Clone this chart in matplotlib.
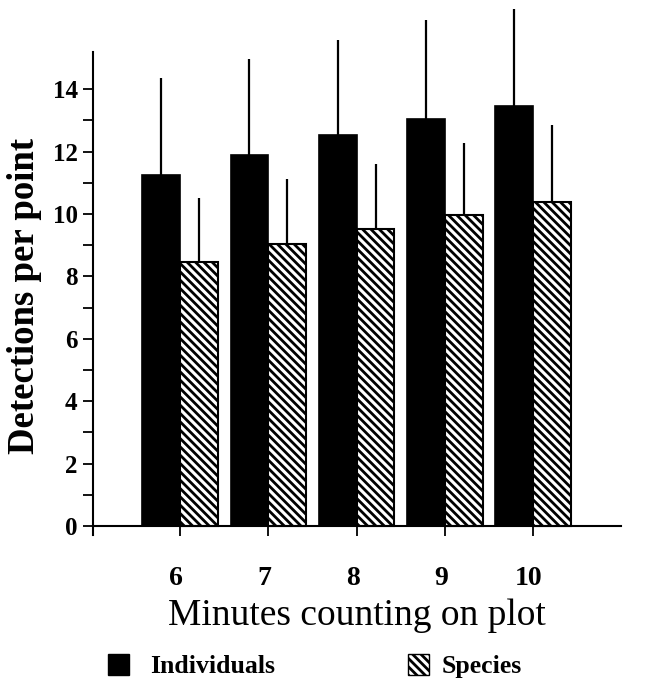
import numpy as np
import matplotlib
matplotlib.use("Agg")
import matplotlib.pyplot as plt
import matplotlib.transforms as mtransforms
from matplotlib.patches import Patch

# values
minutes = ["6", "7", "8", "9", "10"]
individuals = [11.25, 11.88, 12.53, 13.04, 13.47]
individuals_err = [3.10, 3.08, 3.05, 3.18, 3.09]
species = [8.47, 9.03, 9.52, 9.97, 10.39]
species_err = [2.05, 2.08, 2.09, 2.30, 2.46]

plt.rcParams['hatch.linewidth'] = 2.0
hatch = '\\\\\\\\'
serif = 'Liberation Serif'

W, H = 648, 683
fig = plt.figure(figsize=(W / 100, H / 100), dpi=100)
ax = fig.add_axes([93 / W, (H - 535) / H, (621 - 93) / W, (535 - 52) / H])

x = np.arange(len(minutes))
w = 0.43
ax.bar(x - w, individuals, width=w, align='edge', color='black',
       edgecolor='black', linewidth=1.2)
ax.bar(x, species, width=w, align='edge', color='white',
       edgecolor='black', linewidth=1.5, hatch=hatch)

# upper error bars only, allowed to run past the top of the axis
ax.vlines(x - w / 2, individuals, np.add(individuals, individuals_err),
          color='black', lw=1.6, clip_on=False)
ax.vlines(x + w / 2, species, np.add(species, species_err),
          color='black', lw=1.6, clip_on=False)

ax.set_xlim(-0.99, 5.0)
ax.set_ylim(-0.29, 15.19)

for s in ['top', 'right']:
    ax.spines[s].set_visible(False)
ax.spines['bottom'].set_position(('data', 0))
ax.spines['left'].set_linewidth(1.5)
ax.spines['bottom'].set_linewidth(1.5)

ax.set_yticks(np.arange(0, 15, 2))
ax.set_yticks(np.arange(1, 15, 2), minor=True)
ax.tick_params(axis='y', which='both', direction='out', length=7.5,
               width=1.3, pad=3.5)
ax.set_yticklabels([str(v) for v in range(0, 15, 2)],
                   fontfamily=serif, fontweight='bold', fontsize=18)

ax.set_xticks(x)
ax.set_xticklabels(minutes, fontfamily=serif, fontweight='bold', fontsize=20)
ax.tick_params(axis='x', direction='out', length=7.5, width=1.3, pad=21)
shift = mtransforms.ScaledTranslation(-4 / 100, 0, fig.dpi_scale_trans)
for lab in ax.get_xticklabels():
    lab.set_transform(lab.get_transform() + shift)

fig.text(25 / W, 1 - 296 / H, 'Detections per point', rotation=90,
         ha='center', va='center', fontfamily=serif, fontweight='bold',
         fontsize=26.5)
fig.text(357 / W, 1 - 625 / H, 'Minutes counting on plot', ha='center',
         va='baseline', fontfamily=serif, fontsize=27)

# legend, one entry each so the two can be placed apart
leg_kw = dict(frameon=False, loc='center left', borderpad=0,
              borderaxespad=0, handlelength=0.8, handleheight=0.88,
              prop={'family': serif, 'weight': 'bold', 'size': 18.5})
fig.legend(handles=[Patch(facecolor='black', edgecolor='black')],
           labels=['Individuals'], bbox_to_anchor=(108 / W, 1 - 666 / H),
           handletextpad=0.85, **leg_kw)
fig.legend(handles=[Patch(facecolor='white', edgecolor='black', hatch=hatch)],
           labels=['Species'], bbox_to_anchor=(408 / W, 1 - 666 / H),
           handletextpad=0.5, **leg_kw)

fig.savefig('out.png', dpi=100)
